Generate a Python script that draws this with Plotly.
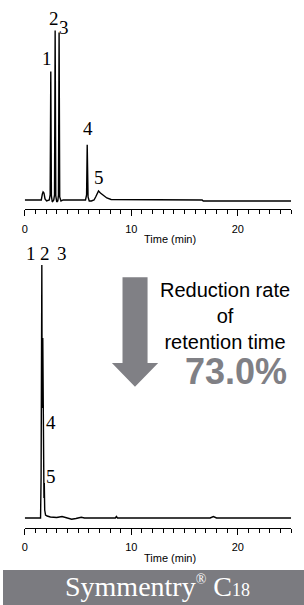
import plotly.graph_objects as go

# ---------------- data ----------------
# Upper chromatogram (conventional column), time in min, signal in arbitrary units
top_time = [0.0, 1.55, 1.65, 1.72, 1.80, 1.90, 2.05, 2.30, 2.38, 2.44, 2.50, 2.58, 2.72,
            2.79, 2.85, 2.91, 3.00, 3.10, 3.16, 3.22, 3.28, 3.40, 3.60, 5.70, 5.80,
            5.86, 5.94, 6.05, 6.25, 6.50, 6.65, 6.80, 6.92, 7.10, 7.40, 7.70, 8.10,
            14.0, 14.3, 14.5, 16.65, 16.75, 25.0]
top_signal = [0, 0, 6, 8, 7, 1, -1, 0, 5, 128, 4, -2, 0,
              5, 169, 4, -2, -1, 5, 167, 3, -1, 0, 0, 5,
              55, 3, -1, -1, 0, 3, 7, 9, 7, 4, 2, 0.5,
              0, 0.7, 0, 0, -1, -1]
top_labels = ["1", "2", "3", "4", "5"]
top_label_x = [2.09, 2.76, 3.72, 5.95, 6.97]
top_label_y = [141, 181, 172, 71, 22]

# Lower chromatogram (Symmetry C18), time in min
bot_time = [0.0, 1.48, 1.53, 1.57, 1.60, 1.63, 1.66, 1.69, 1.72, 1.75, 1.77, 1.80,
            1.83, 1.87, 1.95, 2.10, 2.40, 3.00, 3.50, 4.00, 4.40, 4.80, 5.30, 5.60,
            8.50, 8.60, 8.70, 17.4, 17.7, 18.0, 25.0]
bot_signal = [0, 0, 40, 200, 253, 120, 110, 180, 70, 60, 88, 20,
              35, 8, 3, 2, 1, 0.5, 1.5, 0, -1.2, -0.5, 0.8, 0,
              0, 1.5, 0, 0, 1.5, 0, 0]
bot_labels = ["1", "2", "3", "4", "5"]
bot_label_x = [0.56, 1.92, 3.53, 2.44, 2.44]
bot_label_y = [265, 265, 265, 96, 42]

x_ticks = [0, 10, 20]
x_tick_text = ["0", "10", "20"]
x_title = "Time (min)"
reduction_text = "Reduction rate<br>of<br>retention time"
reduction_value = "73.0%"
column_name = ("Symmentry<sup><span style='font-size:14px'>®</span></sup> "
               "C<span style='font-size:18px'>18</span>")

# ---------------- layout helpers ----------------
W, H = 304, 605
def px(x):
    return x / W
def py(y):
    return 1 - y / H

GRAY = "#808085"
serif = "Liberation Serif, Times New Roman, serif"
sans = "Liberation Sans, Arial, sans-serif"

fig = go.Figure()
fig.add_trace(go.Scatter(x=top_time, y=top_signal, mode="lines",
                         line=dict(color="black", width=1.4), xaxis="x", yaxis="y",
                         hoverinfo="skip"))
fig.add_trace(go.Scatter(x=bot_time, y=bot_signal, mode="lines",
                         line=dict(color="black", width=1.4), xaxis="x2", yaxis="y2",
                         hoverinfo="skip"))

xaxis_common = dict(
    domain=[px(22), px(291)], range=[0, 25], showgrid=False, zeroline=False,
    showline=True, linecolor="black", linewidth=1,
    ticks="outside", ticklen=6, tickcolor="black", tickwidth=1,
    tickvals=x_ticks, ticktext=x_tick_text, ticklabelstandoff=3,
    tickfont=dict(family=sans, size=11, color="black"),
    minor=dict(dtick=1, tick0=0, ticks="outside", ticklen=4, tickcolor="black", tickwidth=1),
    fixedrange=True,
)

fig.update_layout(
    width=W, height=H, autosize=False,
    margin=dict(l=0, r=0, t=0, b=0),
    paper_bgcolor="white", plot_bgcolor="white",
    showlegend=False,
    xaxis=dict(**xaxis_common, anchor="y"),
    yaxis=dict(domain=[py(209.3), py(8)], range=[-9.3, 191.3], visible=False, fixedrange=True),
    xaxis2=dict(**xaxis_common, anchor="y2"),
    yaxis2=dict(domain=[py(527.7), py(245)], range=[-9.7, 273], visible=False, fixedrange=True),
)

C = dict(xanchor="center", yanchor="middle", showarrow=False)
ann = []
for t, x, y in zip(top_labels, top_label_x, top_label_y):
    ann.append(dict(x=x, y=y, xref="x", yref="y", text=t, **C,
                    font=dict(family=serif, size=19, color="black")))
for t, x, y in zip(bot_labels, bot_label_x, bot_label_y):
    ann.append(dict(x=x, y=y, xref="x2", yref="y2", text=t, **C,
                    font=dict(family=serif, size=19, color="black")))
for yc in (239, 557.6):
    ann.append(dict(x=px(169), y=py(yc), xref="paper", yref="paper", text=x_title, **C,
                    font=dict(family=sans, size=11, color="black")))
ann.append(dict(x=px(224), y=py(316), xref="paper", yref="paper", text=reduction_text,
                align="center", **C,
                font=dict(family=sans, size=20, color="black")))
ann.append(dict(x=px(235), y=py(371), xref="paper", yref="paper", text="<b>" + reduction_value + "</b>",
                **C, font=dict(family=sans, size=36, color=GRAY)))
ann.append(dict(x=px(156), y=py(586), xref="paper", yref="paper", text=column_name,
                **C, font=dict(family=serif, size=28, color="white")))
fig.update_layout(annotations=ann)

# arrow and banner (decorations, in paper coordinates)
arrow_pts = [(120.7, 277.3), (146, 277.3), (146, 363), (156.7, 363), (133.3, 386.7),
             (110, 363), (120.7, 363)]
path = "M " + " L ".join(f"{px(x):.5f},{py(y):.5f}" for x, y in arrow_pts) + " Z"
fig.add_shape(type="path", path=path, xref="paper", yref="paper",
              fillcolor=GRAY, line=dict(width=0), layer="above")
fig.add_shape(type="rect", x0=0, x1=1, y0=0, y1=py(570), xref="paper", yref="paper",
              fillcolor="#7b7b80", line=dict(width=0), layer="below")

fig.write_html("out.html", config={"displayModeBar": False},
               post_script="document.body.style.margin='0';document.body.style.overflow='hidden';")
